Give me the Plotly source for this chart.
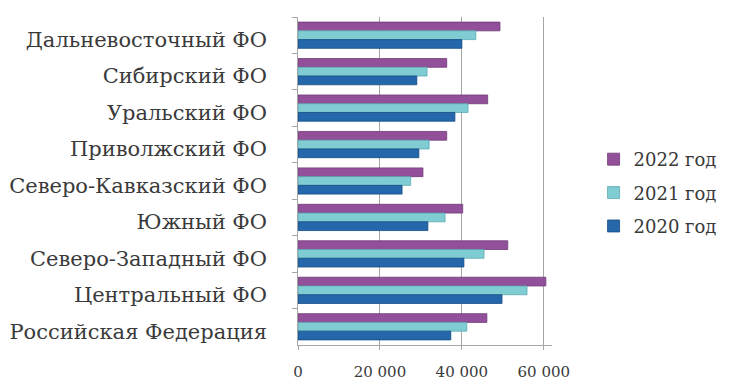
import plotly.graph_objects as go

# Federal districts, listed top to bottom
districts = [
    "Дальневосточный ФО",
    "Сибирский ФО",
    "Уральский ФО",
    "Приволжский ФО",
    "Северо-Кавказский ФО",
    "Южный ФО",
    "Северо-Западный ФО",
    "Центральный ФО",
    "Российская Федерация",
]

series_names = ["2022 год", "2021 год", "2020 год"]
values_2022 = [49300, 36300, 46300, 36300, 30500, 40200, 51200, 60500, 46100]
values_2021 = [43400, 31500, 41500, 32000, 27500, 35900, 45400, 55900, 41200]
values_2020 = [40000, 29000, 38300, 29500, 25400, 31700, 40500, 49800, 37300]

x_ticks = [0, 20000, 40000, 60000]
x_tick_labels = ["0", "20 000", "40 000", "60 000"]

colors = ["#93509A", "#7FCCD3", "#2467AB"]
edge_colors = ["#6E3A75", "#5AAAB3", "#174C84"]

FONT = "DejaVu Serif"
TEXT = "#3a3a3a"
AXIS = "#a6a6a6"

# category labels sit slightly below the bar groups (front face of the 3D plot)
label_drop = 0.12
n = len(districts)

fig = go.Figure()
for name, vals, col, edge in zip(series_names, [values_2022, values_2021, values_2020], colors, edge_colors):
    fig.add_trace(go.Bar(
        y=districts,
        x=vals,
        name=name,
        orientation="h",
        marker=dict(color=col, line=dict(color=edge, width=0.8)),
        legendgroup=name,
    ))

# helper trace so the label axis is drawn
fig.add_trace(go.Scatter(x=[None], y=[None], yaxis="y2", showlegend=False,
                         hoverinfo="skip", mode="markers"))

fig.update_layout(
    width=731,
    height=381,
    margin=dict(l=298, r=179, t=17, b=36, autoexpand=False),
    paper_bgcolor="white",
    plot_bgcolor="white",
    barmode="group",
    bargap=0.28,
    bargroupgap=0.0,
    font=dict(family=FONT, color=TEXT),
    legend=dict(
        xref="container", yref="container",
        x=0.812, y=0.63, xanchor="left", yanchor="top",
        font=dict(family=FONT, size=18, color=TEXT),
        traceorder="grouped",
        tracegroupgap=7,
        itemwidth=30,
    ),
    xaxis=dict(
        range=[0, 62000],
        tickvals=x_ticks,
        ticktext=x_tick_labels,
        showgrid=True,
        gridcolor=AXIS,
        gridwidth=1,
        zeroline=False,
        showline=True,
        linecolor=AXIS,
        ticks="outside",
        ticklen=4,
        tickcolor=AXIS,
        ticklabelstandoff=9,
        tickfont=dict(family=FONT, size=15, color=TEXT),
        automargin=False,
        fixedrange=True,
    ),
    yaxis=dict(
        autorange="reversed",
        showline=True,
        linecolor=AXIS,
        ticks="outside",
        tickson="boundaries",
        ticklen=5,
        tickcolor=AXIS,
        showticklabels=False,
        automargin=False,
        fixedrange=True,
    ),
    yaxis2=dict(
        overlaying="y",
        side="left",
        anchor="x",
        range=[n - 0.5 - label_drop, -0.5 - label_drop],
        tickvals=list(range(n)),
        ticktext=districts,
        showgrid=False,
        zeroline=False,
        showline=False,
        ticks="",
        ticklabelstandoff=30,
        tickfont=dict(family=FONT, size=21, color=TEXT),
        automargin=False,
        fixedrange=True,
    ),
)

fig.write_html("out.html")
